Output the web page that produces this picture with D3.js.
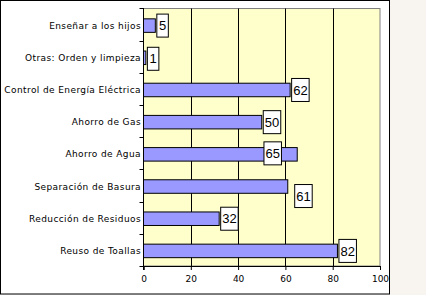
<!DOCTYPE html>
<html>
<head>
<meta charset="utf-8">
<script src="https://cdn.jsdelivr.net/npm/d3@7"></script>
<style>
  html, body { margin: 0; padding: 0; background: #F8F4F0; }
  svg { display: block; }
</style>
</head>
<body>
<svg id="chart" width="426" height="295"></svg>
<script>
// ---- data ----
const categories = [
  "Enseñar a los hijos",
  "Otras: Orden y limpieza",
  "Control de Energía Eléctrica",
  "Ahorro de Gas",
  "Ahorro de Agua",
  "Separación de Basura",
  "Reducción de Residuos",
  "Reuso de Toallas"
];
const values = [5, 1, 62, 50, 65, 61, 32, 82];
const xTicks = [0, 20, 40, 60, 80, 100];
// value (in axis units) at which each data label box sits, as in the original
const labelAt = [5, 1, 62, 50, 50.3, 63.3, 32, 82];

// ---- layout ----
const svg = d3.select("#chart");
const frame = { x: 0.5, y: 0.5, w: 389, h: 293.5 };
const plot = { left: 143.5, right: 380, top: 8.5, bottom: 266 };

svg.append("rect")
  .attr("x", frame.x).attr("y", frame.y)
  .attr("width", frame.w).attr("height", frame.h)
  .attr("fill", "#ffffff").attr("stroke", "#000").attr("stroke-width", 1);

const x = d3.scaleLinear().domain([0, 100]).range([plot.left, plot.right]);
const y = d3.scaleBand().domain(categories)
  .range([plot.top, plot.bottom])
  .paddingInner(0.58).paddingOuter(0.29);

// plot background
svg.append("rect")
  .attr("x", plot.left).attr("y", plot.top)
  .attr("width", plot.right - plot.left).attr("height", plot.bottom - plot.top)
  .attr("fill", "#FFFFCC").attr("stroke", "#808080").attr("stroke-width", 1);

// gridlines
svg.append("g").selectAll("line")
  .data(xTicks.filter(t => t > 0 && t < 100))
  .join("line")
  .attr("x1", d => Math.round(x(d)) + 0.5).attr("x2", d => Math.round(x(d)) + 0.5)
  .attr("y1", plot.top).attr("y2", plot.bottom)
  .attr("stroke", "#000").attr("stroke-width", 1);

// bars
svg.append("g").selectAll("rect")
  .data(values)
  .join("rect")
  .attr("x", x(0))
  .attr("y", (d, i) => y(categories[i]) + 1)
  .attr("width", d => x(d) - x(0))
  .attr("height", y.bandwidth())
  .attr("fill", "#9999FF")
  .attr("stroke", "#000").attr("stroke-width", 1);

// y axis line and boundary ticks
svg.append("line")
  .attr("x1", plot.left).attr("x2", plot.left)
  .attr("y1", plot.top - 0.5).attr("y2", plot.bottom + 4)
  .attr("stroke", "#000");
const bounds = categories.map(c => y(c) + y.bandwidth() / 2 - y.step() / 2).concat([plot.bottom]);
svg.append("g").selectAll("line")
  .data(bounds)
  .join("line")
  .attr("x1", plot.left - 4).attr("x2", plot.left)
  .attr("y1", d => Math.round(d) + 0.5).attr("y2", d => Math.round(d) + 0.5)
  .attr("stroke", "#000");

// category labels
svg.append("g").selectAll("text")
  .data(categories)
  .join("text")
  .attr("x", plot.left - 2.5)
  .attr("y", d => y(d) + y.bandwidth() / 2 + 1)
  .attr("dy", "0.35em")
  .attr("text-anchor", "end")
  .attr("font-family", "DejaVu Sans, Verdana, sans-serif")
  .attr("font-size", 9)
  .attr("letter-spacing", "0.4px")
  .attr("fill", "#000")
  .text(d => d);

// x axis
const xAxis = svg.append("g")
  .attr("transform", `translate(0,${plot.bottom})`)
  .call(d3.axisBottom(x).tickValues(xTicks).tickSize(4).tickPadding(6).tickFormat(d3.format("d")));
xAxis.select(".domain").attr("stroke", "#000");
xAxis.selectAll(".tick line").attr("stroke", "#000");
xAxis.selectAll("text")
  .attr("font-family", "DejaVu Sans, Verdana, sans-serif")
  .attr("font-size", 9)
  .attr("fill", "#000");

// data labels
const labelShift = [0, 1, 0, 0, -1, 9.5, 0, 0];
const lg = svg.append("g").selectAll("g")
  .data(values)
  .join("g")
  .attr("transform", (d, i) => {
    const bx = x(labelAt[i]) + 1.5;
    const cy = y(categories[i]) + y.bandwidth() / 2 + 1 + labelShift[i];
    return `translate(${bx},${cy})`;
  });
lg.append("rect")
  .attr("x", 0)
  .attr("y", -11.5)
  .attr("width", d => String(d).length === 1 ? 11.5 : 17.5)
  .attr("height", 23)
  .attr("fill", "#fff").attr("stroke", "#000").attr("stroke-width", 1);
lg.append("text")
  .attr("x", d => (String(d).length === 1 ? 11.5 : 17.5) / 2)
  .attr("y", 0)
  .attr("dy", "0.36em")
  .attr("text-anchor", "middle")
  .attr("font-family", "Liberation Sans, Arial, sans-serif")
  .attr("font-size", 13)
  .attr("fill", "#000")
  .text(d => d);
</script>
</body>
</html>
